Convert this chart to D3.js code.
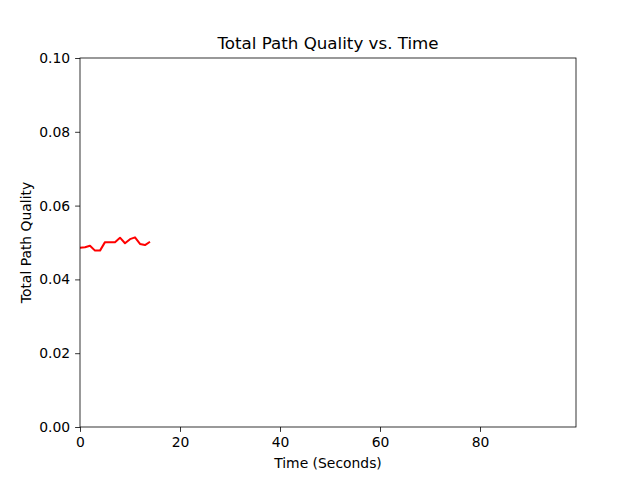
<!DOCTYPE html>
<html>
<head>
<meta charset="utf-8">
<script src="https://cdn.jsdelivr.net/npm/d3@7"></script>
<style>
  body { margin: 0; background: #fff; }
  text { font-family: "DejaVu Sans", sans-serif; fill: #000; }
</style>
</head>
<body>
<svg id="chart" width="640" height="480"></svg>
<script>
// time in seconds and the path quality
const times = [0, 1, 2, 3, 4, 5, 6, 7, 8, 9, 10, 11, 12, 13, 14];
const quality = [0.0486, 0.0487, 0.0491, 0.0478, 0.0478, 0.0501, 0.0501, 0.0501,
                 0.0513, 0.0498, 0.0509, 0.0514, 0.0496, 0.0493, 0.0502];
const xTicks = [0, 20, 40, 60, 80];
const yTicks = [0, 0.02, 0.04, 0.06, 0.08, 0.1];

const svg = d3.select("#chart");
const margin = { left: 80, right: 64, top: 58, bottom: 53 };
const width = 640 - margin.left - margin.right;
const height = 480 - margin.top - margin.bottom;

const x = d3.scaleLinear().domain([0, 99.2]).range([0, width]);
const y = d3.scaleLinear().domain([0, 0.1]).range([height, 0]);

const g = svg.append("g").attr("transform", `translate(${margin.left},${margin.top})`);

// line
const line = d3.line()
  .x((d, i) => x(times[i]))
  .y(d => y(d));

g.append("path")
  .datum(quality)
  .attr("fill", "none")
  .attr("stroke", "#ff0000")
  .attr("stroke-width", 2)
  .attr("stroke-linejoin", "round")
  .attr("d", line);

// axes
const xAxis = g.append("g")
  .attr("transform", `translate(0,${height})`)
  .call(d3.axisBottom(x).tickValues(xTicks).tickFormat(d3.format("d")).tickSize(4.9).tickPadding(4.9));
const yAxis = g.append("g")
  .call(d3.axisLeft(y).tickValues(yTicks).tickFormat(d3.format(".2f")).tickSize(4.9).tickPadding(4.9));

[xAxis, yAxis].forEach(a => {
  a.select(".domain").remove();
  a.selectAll("line").attr("stroke", "#000").attr("stroke-width", 0.8);
  a.selectAll("text").attr("font-size", "13.9px").attr("font-family", "DejaVu Sans, sans-serif");
});

// frame
g.append("rect")
  .attr("width", width).attr("height", height)
  .attr("fill", "none").attr("stroke", "#000").attr("stroke-width", 0.8);

// labels
svg.append("text")
  .attr("x", margin.left + width / 2).attr("y", 49)
  .attr("text-anchor", "middle").attr("font-size", "16.7px")
  .text("Total Path Quality vs. Time");

svg.append("text")
  .attr("x", margin.left + width / 2).attr("y", 468)
  .attr("text-anchor", "middle").attr("font-size", "13.9px")
  .text("Time (Seconds)");

svg.append("text")
  .attr("transform", `translate(31,${margin.top + height / 2}) rotate(-90)`)
  .attr("text-anchor", "middle").attr("font-size", "13.9px")
  .text("Total Path Quality");
</script>
</body>
</html>
